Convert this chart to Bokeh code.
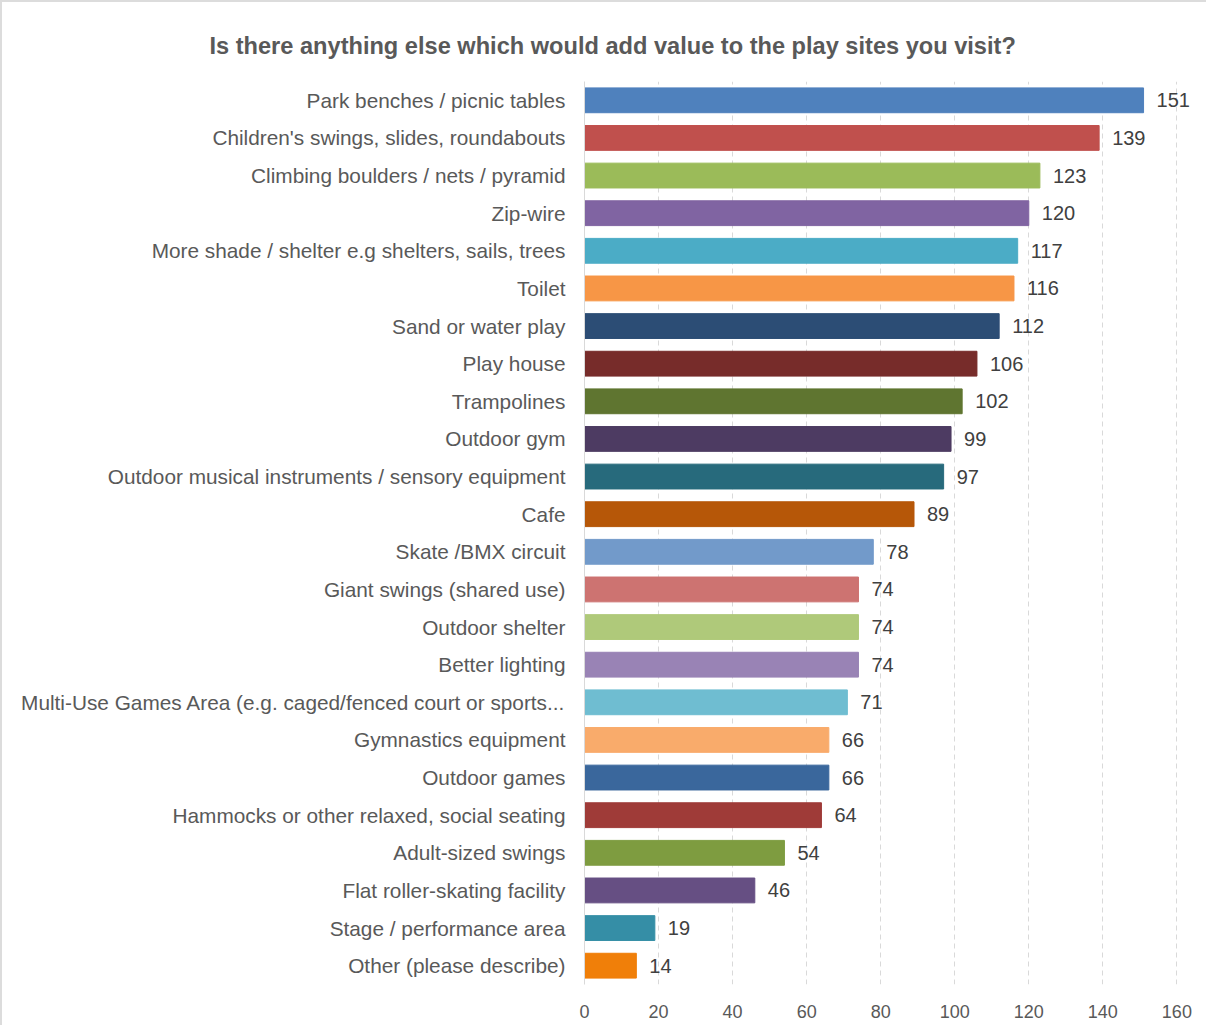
from bokeh.plotting import figure
from bokeh.models import ColumnDataSource, FactorRange, LabelSet, Range1d, FixedTicker, Title
from bokeh.core.properties import value
from bokeh.embed import file_html
from bokeh.resources import INLINE

categories = [
    "Park benches / picnic tables",
    "Children's swings, slides, roundabouts",
    "Climbing boulders / nets / pyramid",
    "Zip-wire",
    "More shade / shelter e.g shelters, sails, trees",
    "Toilet",
    "Sand or water play",
    "Play house",
    "Trampolines",
    "Outdoor gym",
    "Outdoor musical instruments / sensory equipment",
    "Cafe",
    "Skate /BMX circuit",
    "Giant swings (shared use)",
    "Outdoor shelter",
    "Better lighting",
    "Multi-Use Games Area (e.g. caged/fenced court or sports...",
    "Gymnastics equipment",
    "Outdoor games",
    "Hammocks or other relaxed, social seating",
    "Adult-sized swings",
    "Flat roller-skating facility",
    "Stage / performance area",
    "Other (please describe)",
]
values = [151, 139, 123, 120, 117, 116, 112, 106, 102, 99, 97, 89, 78, 74, 74, 74, 71, 66, 66, 64, 54, 46, 19, 14]
colors = [
    "#4F81BD", "#C0504D", "#9BBB59", "#8064A2", "#4BACC6", "#F79646",
    "#2C4D75", "#772C2A", "#5F7530", "#4D3B62", "#276A7C", "#B65708",
    "#729ACA", "#CD7371", "#AFC97A", "#9983B5", "#6FBDD1", "#F9AB6B",
    "#3A679C", "#9F3B38", "#7E9C40", "#664F83", "#358EA6", "#F07F09",
]
x_ticks = [0, 20, 40, 60, 80, 100, 120, 140, 160]
title_text = "Is there anything else which would add value to the play sites you visit?"

src = ColumnDataSource(dict(cat=categories, val=values, col=colors,
                            lab=[str(v) for v in values]))

# 160 units -> 592 px; range extended to 168 so value labels are not clipped
p = figure(width=1202, height=1023, output_backend="svg", toolbar_location=None,
           y_range=FactorRange(*reversed(categories), range_padding=0),
           x_range=Range1d(0, 168), frame_width=622, frame_height=903,
           min_border_left=582, min_border_right=0, min_border_top=79, min_border_bottom=41)
p.styles = {"border-top": "2px solid #dcdcdc", "border-left": "2px solid #dcdcdc"}

p.hbar(y="cat", right="val", height=0.66, left=0, source=src,
       fill_color="col", line_color="col", line_width=1)

p.add_layout(LabelSet(x="val", y="cat", text="lab", source=src, x_offset=13,
                      text_baseline="middle", text_font=value("Liberation Sans"),
                      text_font_size="20px", text_color="#404040"))

t = Title(text=title_text, align="left", offset=-375,
          text_font="Liberation Sans", text_font_size="23.6px", text_font_style="bold",
          text_color="#595959", standoff=46)
p.add_layout(t, "above")

p.outline_line_color = None
p.ygrid.grid_line_color = None
p.xgrid.grid_line_color = "#d9d9d9"
p.xgrid.grid_line_dash = "5 4"
p.xaxis.ticker = FixedTicker(ticks=x_ticks)
p.xaxis.axis_line_color = None
p.xaxis.major_tick_line_color = None
p.xaxis.minor_tick_line_color = None
p.xaxis.major_label_text_font = "Liberation Sans"
p.xaxis.major_label_text_font_size = "18px"
p.xaxis.major_label_text_color = "#595959"
p.xaxis.major_label_standoff = 14

p.yaxis.axis_line_color = "#d9d9d9"
p.yaxis.major_tick_line_color = None
p.yaxis.minor_tick_line_color = None
p.yaxis.major_label_text_font = "Liberation Sans"
p.yaxis.major_label_text_font_size = "20.8px"
p.yaxis.major_label_text_color = "#595959"
p.yaxis.major_label_standoff = 13

open("out.html", "w").write(file_html(p, INLINE))
